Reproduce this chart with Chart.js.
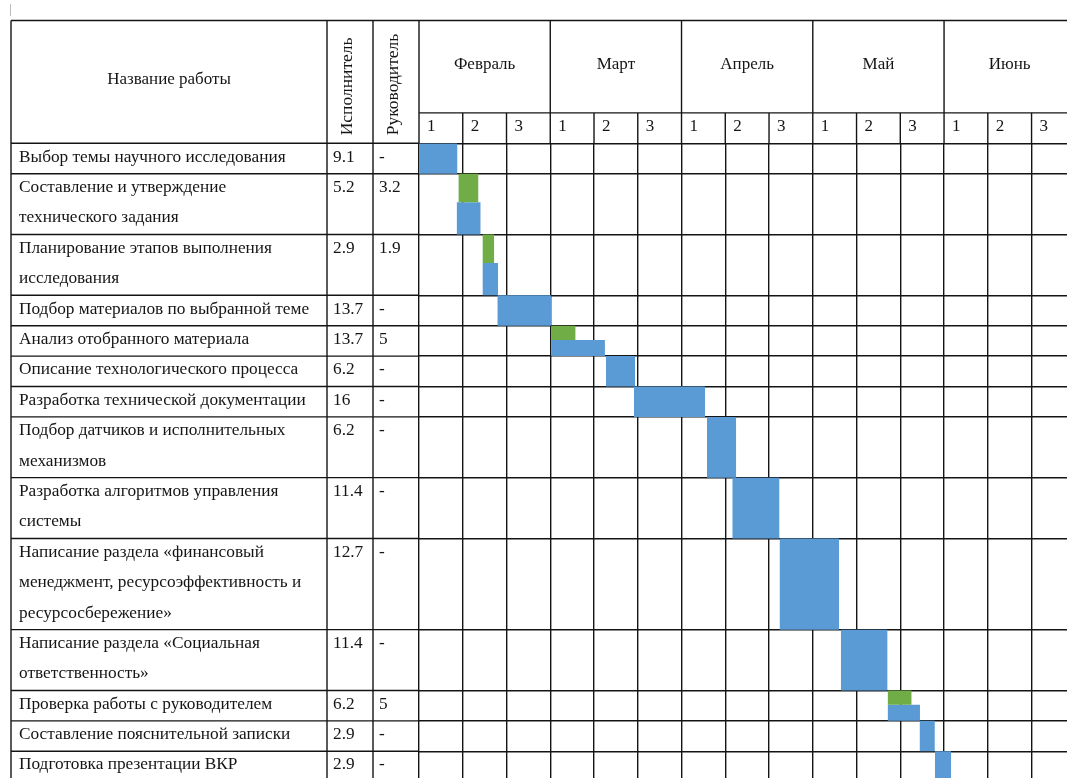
<!DOCTYPE html>
<html lang="ru">
<head>
<meta charset="utf-8">
<title>Календарный план-график</title>
<script src="https://cdn.jsdelivr.net/npm/chart.js@4.4.1/dist/chart.umd.min.js"></script>
<style>
  html, body { margin: 0; padding: 0; background: #fff; }
  #wrap { width: 1067px; height: 778px; position: relative; }
</style>
</head>
<body>
<div id="wrap"><canvas id="gantt"></canvas></div>
<script>
// task names, split into the lines they take in the table
const taskNames = [
  ['Выбор темы научного исследования'],
  ['Составление и утверждение', 'технического задания'],
  ['Планирование этапов выполнения', 'исследования'],
  ['Подбор материалов по выбранной теме'],
  ['Анализ отобранного материала'],
  ['Описание технологического процесса'],
  ['Разработка технической документации'],
  ['Подбор датчиков и исполнительных', 'механизмов'],
  ['Разработка алгоритмов управления', 'системы'],
  ['Написание раздела «финансовый', 'менеджмент, ресурсоэффективность и', 'ресурсосбережение»'],
  ['Написание раздела «Социальная', 'ответственность»'],
  ['Проверка работы с руководителем'],
  ['Составление пояснительной записки'],
  ['Подготовка презентации ВКР']
];
const executorDays   = ['9.1', '5.2', '2.9', '13.7', '13.7', '6.2', '16', '6.2', '11.4', '12.7', '11.4', '6.2', '2.9', '2.9'];
const supervisorDays = ['-', '3.2', '1.9', '-', '5', '-', '-', '-', '-', '-', '-', '5', '-', '-'];

// bar positions in decades, counted from 1st decade of February
const executorStart = [0, 0.86, 1.45, 1.79, 3.02, 4.27, 4.91, 6.58, 7.16, 8.24, 9.64, 10.71, 11.44, 11.79];
const executorEnd   = [0.88, 1.41, 1.81, 3.02, 4.25, 4.94, 6.54, 7.25, 8.24, 9.60, 10.71, 11.45, 11.79, 12.16];
const supervisorStart = [null, 0.90, 1.45, null, 3.02, null, null, null, null, null, null, 10.71, null, null];
const supervisorEnd   = [null, 1.36, 1.72, null, 3.58, null, null, null, null, null, null, 11.26, null, null];

const months = ['Февраль', 'Март', 'Апрель', 'Май', 'Июнь'];
const decadeLabels = ['1', '2', '3'];

const BLUE = '#5b9bd5';
const GREEN = '#70ad47';
const LINE = '#141414';
const FONT = '"Liberation Serif", "Times New Roman", serif';
const SPLIT = 0.47;

// row tops in text-line units
const rowTops = [];
let acc = 0;
taskNames.forEach(n => { rowTops.push(acc); acc += n.length; });
const rowBounds = rowTops.concat([acc]);

const datasets = [];
taskNames.forEach((n, i) => {
  const top = rowTops[i];
  const bottom = top + n.length;
  let blueTop = top;
  if (supervisorStart[i] !== null) {
    const mid = top + n.length * SPLIT;
    blueTop = mid;
    datasets.push({
      label: 'Руководитель',
      data: [{x: supervisorStart[i], y: top}, {x: supervisorEnd[i], y: top}],
      fill: {value: mid},
      backgroundColor: GREEN,
      borderWidth: 0,
      pointRadius: 0
    });
  }
  datasets.push({
    label: 'Исполнитель',
    data: [{x: executorStart[i], y: blueTop}, {x: executorEnd[i], y: blueTop}],
    fill: {value: bottom},
    backgroundColor: BLUE,
    borderWidth: 0,
    pointRadius: 0
  });
});

const tableFrame = {
  id: 'tableFrame',
  afterDraw(chart) {
    const ctx = chart.ctx;
    const {left, top, right} = chart.chartArea;
    const xs = chart.scales.x, ys = chart.scales.y;
    const H = chart.height;
    const tableLeft = 11, nameRight = 327, execRight = 373;
    const headTop = 20.5;
    const monthLine = ys.getPixelForValue(-1);

    ctx.save();
    ctx.strokeStyle = LINE;
    ctx.lineWidth = 1.4;
    const line = (x1, y1, x2, y2) => { ctx.beginPath(); ctx.moveTo(x1, y1); ctx.lineTo(x2, y2); ctx.stroke(); };

    // stray caret mark above the table
    ctx.save();
    ctx.strokeStyle = '#bbb';
    ctx.lineWidth = 1;
    line(10.5, 4, 10.5, 16);
    ctx.restore();

    // frame of the header and the text columns
    line(tableLeft, headTop, right, headTop);
    [tableLeft, nameRight, execRight].forEach(x => line(x, headTop, x, H));
    line(left, headTop, left, top);
    line(left, monthLine, right, monthLine);
    for (let k = 1; k < 15; k++) {
      const x = xs.getPixelForValue(k);
      line(x, k % 3 === 0 ? headTop : monthLine, x, top);
    }
    rowBounds.forEach(v => {
      const y = ys.getPixelForValue(v);
      line(tableLeft, y, left, y);
    });

    ctx.fillStyle = '#151515';
    ctx.textBaseline = 'middle';

    // header texts
    ctx.font = '17px ' + FONT;
    ctx.textAlign = 'center';
    ctx.fillText('Название работы', (tableLeft + nameRight) / 2, (headTop + top) / 2 - 2);
    months.forEach((m, i) => {
      ctx.fillText(m, xs.getPixelForValue(i * 3 + 1.5), (headTop + monthLine) / 2 - 2);
    });
    ctx.textAlign = 'left';
    for (let k = 0; k < 15; k++) {
      ctx.fillText(decadeLabels[k % 3], xs.getPixelForValue(k) + 8, ys.getPixelForValue(-0.5) - 1.5);
    }
    ctx.font = '17.5px ' + FONT;
    [['Исполнитель', (nameRight + execRight) / 2 - 3], ['Руководитель', (execRight + left) / 2 - 3]].forEach(([t, x]) => {
      ctx.save();
      ctx.translate(x, top - 8);
      ctx.rotate(-Math.PI / 2);
      ctx.fillText(t, 0, 0);
      ctx.restore();
    });

    // body texts
    ctx.font = '17.3px ' + FONT;
    taskNames.forEach((n, i) => {
      n.forEach((t, j) => {
        ctx.fillText(t, tableLeft + 8, ys.getPixelForValue(rowTops[i] + j + 0.5) - 1.5);
      });
      const y0 = ys.getPixelForValue(rowTops[i] + 0.5) - 1.5;
      ctx.fillText(executorDays[i], nameRight + 6, y0);
      ctx.fillText(supervisorDays[i], execRight + 6, y0);
    });
    ctx.restore();
  }
};

new Chart(document.getElementById('gantt'), {
  type: 'line',
  data: {datasets},
  options: {
    responsive: true,
    maintainAspectRatio: false,
    animation: false,
    layout: {padding: {left: 419, top: 143.3, right: 0, bottom: 0}},
    plugins: {legend: {display: false}, tooltip: {enabled: false}},
    scales: {
      x: {
        type: 'linear',
        min: 0,
        max: 14.81,
        border: {display: false},
        grid: {color: LINE, lineWidth: 1.4, drawTicks: false},
        ticks: {display: false},
        afterBuildTicks: s => { s.ticks = Array.from({length: 15}, (_, k) => ({value: k})); }
      },
      y: {
        type: 'linear',
        reverse: true,
        min: 0,
        max: 20.88,
        border: {display: false},
        grid: {color: LINE, lineWidth: 1.4, drawTicks: false},
        ticks: {display: false},
        afterBuildTicks: s => { s.ticks = rowBounds.map(v => ({value: v})); }
      }
    }
  },
  plugins: [tableFrame]
});
</script>
</body>
</html>
